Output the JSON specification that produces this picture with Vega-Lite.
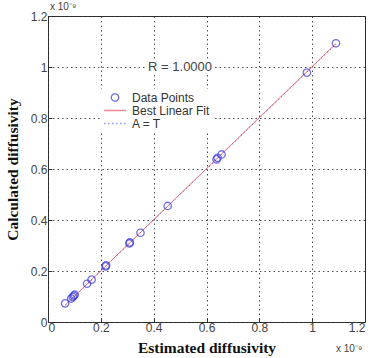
{
  "$schema": "https://vega.github.io/schema/vega-lite/v6.json",
  "width": 317,
  "height": 306,
  "autosize": {"type": "none"},
  "padding": {"left": 48, "top": 16, "right": 7, "bottom": 36},
  "background": "white",
  "config": {
    "view": {"stroke": "#333", "strokeWidth": 1},
    "axis": {
      "labelFont": "Liberation Sans",
      "labelFontSize": 12,
      "labelColor": "#444",
      "titleFont": "Liberation Serif",
      "titleFontSize": 15.5,
      "titleFontWeight": "bold",
      "titleColor": "#111",
      "grid": true,
      "gridColor": "#222",
      "gridDash": [1.5, 3],
      "gridOpacity": 0.8,
      "tickSize": -4,
      "tickColor": "#333",
      "domain": false,
      "format": "~g"
    },
    "legend": {
      "orient": "none",
      "legendX": 53,
      "legendY": 73,
      "title": null,
      "labelFont": "Liberation Sans",
      "labelFontSize": 12,
      "labelColor": "#333",
      "fillColor": "white",
      "padding": 2,
      "rowPadding": 0,
      "clipHeight": 13,
      "symbolStrokeWidth": 1.3,
      "labelOffset": 5
    }
  },
  "data": {
    "values": [
      {"series": "Data Points", "est": 0.065, "calc": 0.073},
      {"series": "Data Points", "est": 0.088, "calc": 0.092},
      {"series": "Data Points", "est": 0.094, "calc": 0.098},
      {"series": "Data Points", "est": 0.098, "calc": 0.103},
      {"series": "Data Points", "est": 0.101, "calc": 0.107},
      {"series": "Data Points", "est": 0.148, "calc": 0.150},
      {"series": "Data Points", "est": 0.165, "calc": 0.166},
      {"series": "Data Points", "est": 0.218, "calc": 0.218},
      {"series": "Data Points", "est": 0.22, "calc": 0.222},
      {"series": "Data Points", "est": 0.308, "calc": 0.308},
      {"series": "Data Points", "est": 0.31, "calc": 0.312},
      {"series": "Data Points", "est": 0.35, "calc": 0.35},
      {"series": "Data Points", "est": 0.453, "calc": 0.455},
      {"series": "Data Points", "est": 0.638, "calc": 0.638},
      {"series": "Data Points", "est": 0.642, "calc": 0.644},
      {"series": "Data Points", "est": 0.657, "calc": 0.657},
      {"series": "Data Points", "est": 0.98, "calc": 0.978},
      {"series": "Data Points", "est": 1.09, "calc": 1.093},
      {"series": "A = T", "est": 0.065, "calc": 0.065},
      {"series": "A = T", "est": 1.09, "calc": 1.09},
      {"series": "Best Linear Fit", "est": 0.065, "calc": 0.066},
      {"series": "Best Linear Fit", "est": 1.09, "calc": 1.092}
    ]
  },
  "layer": [
    {
      "transform": [{"filter": "datum.series !== 'Data Points'"}],
      "mark": {"type": "line", "strokeWidth": 1},
      "encoding": {
        "x": {
          "field": "est", "type": "quantitative",
          "scale": {"domain": [0, 1.2], "nice": false},
          "axis": {"values": [0, 0.2, 0.4, 0.6, 0.8, 1, 1.2], "title": "Estimated diffusivity", "labelPadding": 4, "titlePadding": 7}
        },
        "y": {
          "field": "calc", "type": "quantitative",
          "scale": {"domain": [0, 1.2], "nice": false},
          "axis": {"values": [0, 0.2, 0.4, 0.6, 0.8, 1, 1.2], "title": "Calculated diffusivity", "labelPadding": 5, "titlePadding": 10}
        },
        "color": {
          "field": "series", "type": "nominal",
          "scale": {"domain": ["Data Points", "Best Linear Fit", "A = T"], "range": ["#3535e0", "#e85a64", "#6a6af0"]}
        },
        "strokeDash": {
          "field": "series", "type": "nominal",
          "scale": {"domain": ["Data Points", "Best Linear Fit", "A = T"], "range": [[1, 0], [1, 0], [1.5, 2.5]]}
        },
        "order": {"field": "est", "type": "quantitative"}
      }
    },
    {
      "transform": [{"filter": "datum.series === 'Data Points'"}],
      "mark": {"type": "point", "filled": false, "strokeWidth": 1.3},
      "encoding": {
        "x": {"field": "est", "type": "quantitative"},
        "y": {"field": "calc", "type": "quantitative"},
        "color": {"field": "series", "type": "nominal"},
        "shape": {
          "field": "series", "type": "nominal",
          "scale": {"domain": ["Data Points", "Best Linear Fit", "A = T"], "range": ["circle", "stroke", "stroke"]}
        },
        "size": {
          "field": "series", "type": "nominal",
          "scale": {"type": "ordinal", "domain": ["Data Points", "Best Linear Fit", "A = T"], "range": [55, 484, 484]}
        }
      }
    },
    {
      "data": {"values": [{"label": "R  = 1.0000"}]},
      "mark": {"type": "text", "font": "Liberation Sans", "fontSize": 13, "color": "white", "stroke": "white", "strokeWidth": 5, "align": "center"},
      "encoding": {
        "x": {"datum": 0.5},
        "y": {"datum": 1.0},
        "text": {"field": "label"}
      }
    },
    {
      "data": {"values": [{"label": "R  = 1.0000"}]},
      "mark": {"type": "text", "font": "Liberation Sans", "fontSize": 13, "color": "#444", "align": "center"},
      "encoding": {
        "x": {"datum": 0.5},
        "y": {"datum": 1.0},
        "text": {"field": "label"}
      }
    },
    {
      "data": {"values": [{"label": "x 10⁻⁹"}]},
      "mark": {"type": "text", "font": "Liberation Sans", "fontSize": 10, "color": "#444", "align": "left", "dy": -9, "dx": 2},
      "encoding": {
        "x": {"datum": 0},
        "y": {"datum": 1.2},
        "text": {"field": "label"}
      }
    },
    {
      "data": {"values": [{"label": "x 10⁻⁹"}]},
      "mark": {"type": "text", "font": "Liberation Sans", "fontSize": 10, "color": "#444", "align": "left", "dy": 27, "dx": -29},
      "encoding": {
        "x": {"datum": 1.2},
        "y": {"datum": 0},
        "text": {"field": "label"}
      }
    }
  ]
}
